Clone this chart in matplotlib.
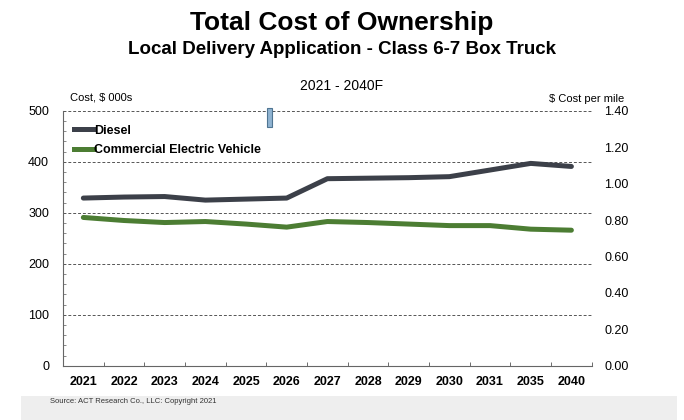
import matplotlib.pyplot as plt
from matplotlib.patches import Rectangle
from matplotlib.lines import Line2D

plt.rcParams['font.family'] = ['Liberation Sans', 'DejaVu Sans']

# Data
years = ['2021', '2022', '2023', '2024', '2025', '2026', '2027',
         '2028', '2029', '2030', '2031', '2035', '2040']
diesel = [329, 331, 332, 325, 327, 329, 367, 368, 369, 371, 384, 397, 391]
electric = [291, 285, 281, 283, 278, 272, 283, 281, 278, 275, 275, 268, 266]
right_ticks = [0.0, 0.2, 0.4, 0.6, 0.8, 1.0, 1.2, 1.4]

diesel_color = '#3c4049'
ev_color = '#4c7d33'

fig = plt.figure(figsize=(6.84, 4.2), dpi=100)
ax = fig.add_axes([0.0921, 0.129, 0.773, 0.607])

x = range(len(years))
ax.plot(x, diesel, color=diesel_color, lw=3.6, solid_capstyle='round', zorder=3)
ax.plot(x, electric, color=ev_color, lw=3.6, solid_capstyle='round', zorder=3)

ax.set_xlim(-0.5, len(years) - 0.5)
ax.set_ylim(0, 500)
ax.set_yticks(range(0, 501, 100))
ax.set_yticks(range(0, 501, 20), minor=True)
ax.set_xticks(x)
ax.set_xticklabels(years, fontweight='bold', fontsize=9)
ax.set_xticks([i + 0.5 for i in range(len(years))], minor=True)
ax.tick_params(axis='x', which='major', length=0, pad=7)
ax.tick_params(axis='x', which='minor', length=3, direction='in', color='#555555')
ax.tick_params(axis='y', which='major', length=0, labelsize=9, pad=10)
ax.tick_params(axis='y', which='minor', length=2.5, direction='in', color='#777777')

for v in range(100, 501, 100):
    ax.axhline(v, color='#555555', lw=0.7, ls=(0, (3, 2)), zorder=1)

for s in ['top', 'right']:
    ax.spines[s].set_visible(False)
ax.spines['left'].set_color('#666666')
ax.spines['bottom'].set_color('#666666')

ax2 = ax.twinx()
ax2.set_ylim(0, 1.4)
ax2.set_yticks(right_ticks)
ax2.set_yticklabels(['%.2f' % t for t in right_ticks])
ax2.tick_params(axis='y', length=0, labelsize=9, pad=9)
for s in ['top', 'right', 'left', 'bottom']:
    ax2.spines[s].set_visible(False)

handles = [Line2D([], [], color=diesel_color, lw=3.6),
           Line2D([], [], color=ev_color, lw=3.6)]
leg = ax.legend(handles, ['Diesel', 'Commercial Electric Vehicle'],
                loc='upper left', bbox_to_anchor=(0.0, 0.99), frameon=False,
                handlelength=1.6, handletextpad=0.0, labelspacing=0.6,
                prop={'weight': 'bold', 'size': 9})

fig.text(0.5, 0.945, 'Total Cost of Ownership', ha='center', va='center',
         fontsize=19, fontweight='bold')
fig.text(0.5, 0.882, 'Local Delivery Application - Class 6-7 Box Truck',
         ha='center', va='center', fontsize=13.5, fontweight='bold')
fig.text(0.5, 0.795, '2021 - 2040F', ha='center', va='center', fontsize=10)
fig.text(0.102, 0.768, 'Cost, $ 000s', ha='left', va='center', fontsize=8)
fig.text(0.912, 0.764, '$ Cost per mile', ha='right', va='center', fontsize=8)

# small slider artefact from the original slide
fig.patches.append(Rectangle((0.391, 0.697), 0.006, 0.045, transform=fig.transFigure,
                             facecolor='#8fb3d1', edgecolor='#4f7592', lw=0.8))

# footer band
fig.patches.append(Rectangle((0.03, 0), 0.96, 0.058, transform=fig.transFigure,
                             facecolor='#eeeeee', edgecolor='none', zorder=0))
fig.text(0.073, 0.045, 'Source: ACT Research Co., LLC: Copyright 2021',
         ha='left', va='center', fontsize=5.5, color='#333333')

fig.savefig('out.png', dpi=100)
